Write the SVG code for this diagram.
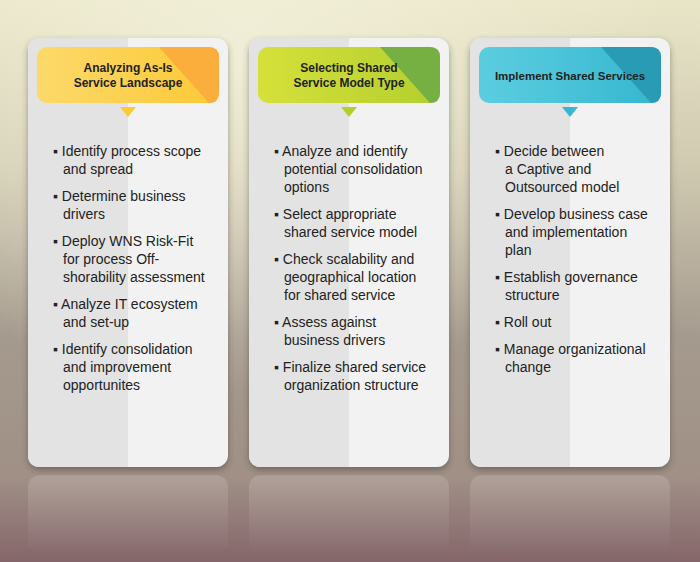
<svg xmlns="http://www.w3.org/2000/svg" width="700" height="562" viewBox="0 0 700 562">
<defs>
<linearGradient id="bg" x1="0" y1="0" x2="0" y2="1">
<stop offset="0" stop-color="#e9e6c8"/><stop offset="0.3" stop-color="#cfc9b0"/><stop offset="0.6" stop-color="#a59a8e"/><stop offset="0.85" stop-color="#a09086"/><stop offset="1" stop-color="#85666a"/>
</linearGradient>
<radialGradient id="glow" cx="0.35" cy="0.1" r="0.6"><stop offset="0" stop-color="#f4f2dc" stop-opacity="0.8"/><stop offset="1" stop-color="#f4f2dc" stop-opacity="0"/></radialGradient>
<linearGradient id="refl" x1="0" y1="0" x2="0" y2="1"><stop offset="0" stop-color="#fff" stop-opacity="0.15"/><stop offset="1" stop-color="#fff" stop-opacity="0"/></linearGradient>
<linearGradient id="y" x1="0" y1="0" x2="1" y2="0"><stop offset="0" stop-color="#fcd96a"/><stop offset="1" stop-color="#fdc936"/></linearGradient>
<linearGradient id="g" x1="0" y1="0" x2="1" y2="0"><stop offset="0" stop-color="#d6e03a"/><stop offset="1" stop-color="#b3cf2e"/></linearGradient>
<linearGradient id="c" x1="0" y1="0" x2="1" y2="0"><stop offset="0" stop-color="#5ccde0"/><stop offset="1" stop-color="#35b7cf"/></linearGradient>
<filter id="sh" x="-10%" y="-10%" width="120%" height="120%"><feDropShadow dx="0" dy="3" stdDeviation="3" flood-color="#333" flood-opacity="0.45"/></filter>
</defs>
<style>
.t{font-family:"Liberation Sans",Arial,sans-serif;font-size:14px;fill:#222}
.h{font-family:"Liberation Sans",Arial,sans-serif;font-size:12px;font-weight:bold;fill:#222;text-anchor:middle}
</style>
<rect width="700" height="562" fill="url(#bg)"/>
<rect width="700" height="562" fill="url(#glow)"/>
<g id="card1">
<rect x="28" y="475" width="200" height="80" rx="12" fill="url(#refl)"/>
<rect x="28" y="38" width="200" height="429" rx="12" fill="#f2f2f2" filter="url(#sh)"/>
<path d="M40 38 H128 V467 H40 Q28 467 28 455 V50 Q28 38 40 38Z" fill="#e3e3e3"/>
<rect x="37" y="47" width="182" height="56" rx="10" fill="url(#y)"/>
<path d="M159 47 H209 Q219 47 219 57 V93 Q219 103 209 103 Z" fill="#fbae3c"/>
<path d="M120 107 H136 L128 117Z" fill="#fdc936"/>
<text class="h" x="128" y="72">Analyzing As-Is</text><text class="h" x="128" y="87">Service Landscape</text>
<text class="t"><tspan x="53" y="156">▪ Identify process scope</tspan><tspan x="63" y="174">and spread</tspan><tspan x="53" y="201">▪ Determine business</tspan><tspan x="63" y="219">drivers</tspan><tspan x="53" y="246">▪ Deploy WNS Risk-Fit</tspan><tspan x="63" y="264">for process Off-</tspan><tspan x="63" y="282">shorability assessment</tspan><tspan x="53" y="309">▪ Analyze IT ecosystem</tspan><tspan x="63" y="327">and set-up</tspan><tspan x="53" y="354">▪ Identify consolidation</tspan><tspan x="63" y="372">and improvement</tspan><tspan x="63" y="390">opportunites</tspan></text>
</g>
<g id="card2">
<rect x="249" y="475" width="200" height="80" rx="12" fill="url(#refl)"/>
<rect x="249" y="38" width="200" height="429" rx="12" fill="#f2f2f2" filter="url(#sh)"/>
<path d="M261 38 H349 V467 H261 Q249 467 249 455 V50 Q249 38 261 38Z" fill="#e3e3e3"/>
<rect x="258" y="47" width="182" height="56" rx="10" fill="url(#g)"/>
<path d="M380 47 H430 Q440 47 440 57 V93 Q440 103 430 103 Z" fill="#76b043"/>
<path d="M341 107 H357 L349 117Z" fill="#b3cf2e"/>
<text class="h" x="349" y="72">Selecting Shared</text><text class="h" x="349" y="87">Service Model Type</text>
<text class="t"><tspan x="274" y="156">▪ Analyze and identify</tspan><tspan x="284" y="174">potential consolidation</tspan><tspan x="284" y="192">options</tspan><tspan x="274" y="219">▪ Select appropriate</tspan><tspan x="284" y="237">shared service model</tspan><tspan x="274" y="264">▪ Check scalability and</tspan><tspan x="284" y="282">geographical location</tspan><tspan x="284" y="300">for shared service</tspan><tspan x="274" y="327">▪ Assess against</tspan><tspan x="284" y="345">business drivers</tspan><tspan x="274" y="372">▪ Finalize shared service</tspan><tspan x="284" y="390">organization structure</tspan></text>
</g>
<g id="card3">
<rect x="470" y="475" width="200" height="80" rx="12" fill="url(#refl)"/>
<rect x="470" y="38" width="200" height="429" rx="12" fill="#f2f2f2" filter="url(#sh)"/>
<path d="M482 38 H570 V467 H482 Q470 467 470 455 V50 Q470 38 482 38Z" fill="#e3e3e3"/>
<rect x="479" y="47" width="182" height="56" rx="10" fill="url(#c)"/>
<path d="M601 47 H651 Q661 47 661 57 V93 Q661 103 651 103 Z" fill="#2a9bb5"/>
<path d="M562 107 H578 L570 117Z" fill="#35b7cf"/>
<text class="h" x="570" y="80" style="font-size:11.5px">Implement Shared Services</text>
<text class="t"><tspan x="495" y="156">▪ Decide between</tspan><tspan x="505" y="174">a Captive and</tspan><tspan x="505" y="192">Outsourced model</tspan><tspan x="495" y="219">▪ Develop business case</tspan><tspan x="505" y="237">and implementation</tspan><tspan x="505" y="255">plan</tspan><tspan x="495" y="282">▪ Establish governance</tspan><tspan x="505" y="300">structure</tspan><tspan x="495" y="327">▪ Roll out</tspan><tspan x="495" y="354">▪ Manage organizational</tspan><tspan x="505" y="372">change</tspan></text>
</g>
<g id="connectors"/>
</svg>
